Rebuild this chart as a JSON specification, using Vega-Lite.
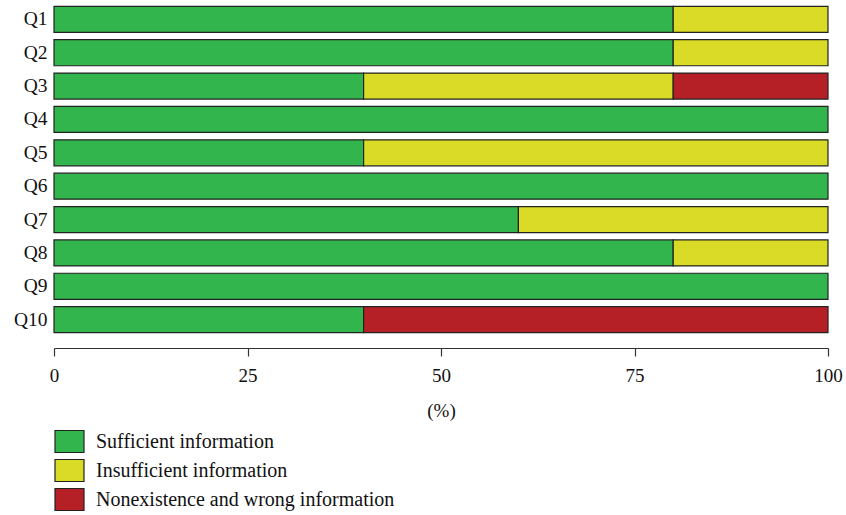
{
  "$schema": "https://vega.github.io/schema/vega-lite/v6.json",
  "width": 774,
  "height": 333,
  "padding": {"left": 13, "top": 3, "right": 5, "bottom": 2},
  "background": "white",
  "config": {
    "view": {"stroke": null},
    "font": "Liberation Serif",
    "axis": {"labelFont": "Liberation Serif", "titleFont": "Liberation Serif", "labelColor": "#111", "titleColor": "#111", "grid": false},
    "legend": {"labelFont": "Liberation Serif"}
  },
  "data": {
    "values": [
      {"q": "Q1", "cat": "Sufficient information", "ord": 1, "v": 80},
      {"q": "Q1", "cat": "Insufficient information", "ord": 2, "v": 20},
      {"q": "Q2", "cat": "Sufficient information", "ord": 1, "v": 80},
      {"q": "Q2", "cat": "Insufficient information", "ord": 2, "v": 20},
      {"q": "Q3", "cat": "Sufficient information", "ord": 1, "v": 40},
      {"q": "Q3", "cat": "Insufficient information", "ord": 2, "v": 40},
      {"q": "Q3", "cat": "Nonexistence and wrong information", "ord": 3, "v": 20},
      {"q": "Q4", "cat": "Sufficient information", "ord": 1, "v": 100},
      {"q": "Q5", "cat": "Sufficient information", "ord": 1, "v": 40},
      {"q": "Q5", "cat": "Insufficient information", "ord": 2, "v": 60},
      {"q": "Q6", "cat": "Sufficient information", "ord": 1, "v": 100},
      {"q": "Q7", "cat": "Sufficient information", "ord": 1, "v": 60},
      {"q": "Q7", "cat": "Insufficient information", "ord": 2, "v": 40},
      {"q": "Q8", "cat": "Sufficient information", "ord": 1, "v": 80},
      {"q": "Q8", "cat": "Insufficient information", "ord": 2, "v": 20},
      {"q": "Q9", "cat": "Sufficient information", "ord": 1, "v": 100},
      {"q": "Q10", "cat": "Sufficient information", "ord": 1, "v": 40},
      {"q": "Q10", "cat": "Nonexistence and wrong information", "ord": 3, "v": 60}
    ]
  },
  "mark": {"type": "bar", "stroke": "#222", "strokeWidth": 1.2},
  "encoding": {
    "y": {
      "field": "q", "type": "nominal",
      "sort": ["Q1","Q2","Q3","Q4","Q5","Q6","Q7","Q8","Q9","Q10"],
      "scale": {"paddingInner": 0.22, "paddingOuter": 0.1},
      "axis": {"title": null, "domain": false, "ticks": false, "labelFontSize": 19.5, "labelPadding": 7}
    },
    "x": {
      "field": "v", "type": "quantitative", "stack": "zero",
      "scale": {"domain": [0, 100], "nice": false},
      "axis": {"title": "(%)", "values": [0, 25, 50, 75, 100], "labelFlush": false, "offset": 12, "tickSize": 8, "tickColor": "#333", "domainColor": "#333", "domainWidth": 1.2, "tickWidth": 1.2, "labelFontSize": 19, "labelPadding": 10, "titleFontSize": 19, "titleFontWeight": "normal", "titlePadding": 16}
    },
    "color": {
      "field": "cat", "type": "nominal",
      "sort": ["Sufficient information", "Insufficient information", "Nonexistence and wrong information"],
      "scale": {
        "domain": ["Sufficient information", "Insufficient information", "Nonexistence and wrong information"],
        "range": ["#33b54d", "#d9db26", "#b52026"]
      },
      "legend": {
        "title": null, "orient": "bottom", "direction": "vertical", "offset": 6,
        "symbolType": "M-1,-0.76H1V0.76H-1Z", "symbolSize": 841,
        "symbolStrokeColor": "#222", "symbolStrokeWidth": 1.2, "symbolOpacity": 1,
        "labelFontSize": 20, "labelColor": "#111", "labelOffset": 11, "rowPadding": -2, "labelLimit": 600
      }
    },
    "order": {"field": "ord", "type": "quantitative"}
  }
}
